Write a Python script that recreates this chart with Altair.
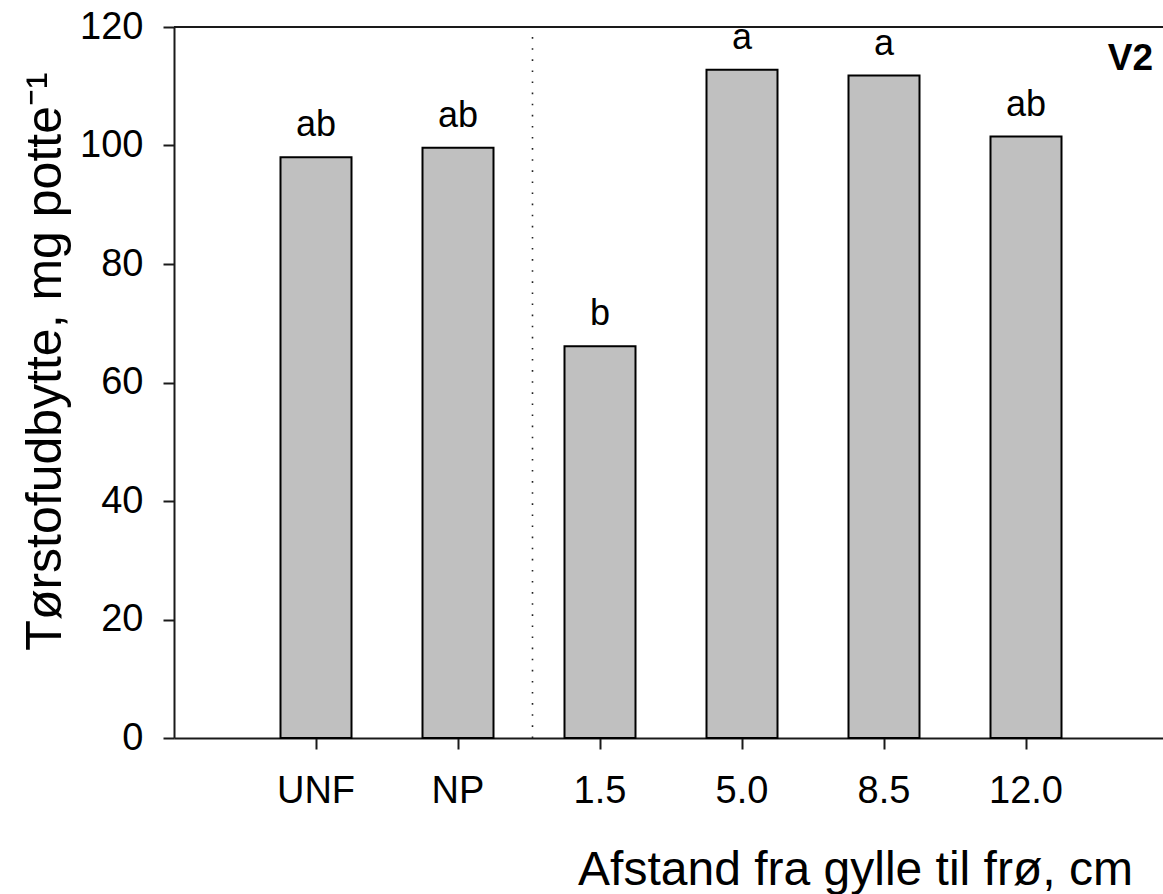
import altair as alt
import pandas as pd

# Dry-matter yield per treatment (mg per pot) and significance groups
treatments = ["UNF", "NP", "1.5", "5.0", "8.5", "12.0"]
dry_matter = [98.0, 99.6, 66.1, 112.8, 111.8, 101.5]
groups = ["ab", "ab", "b", "a", "a", "ab"]
y_ticks = [0, 20, 40, 60, 80, 100, 120]
panel = "V2"

df = pd.DataFrame({"treatment": treatments, "yield": dry_matter, "group": groups})
# separator sits just right of the last control treatment, full height
split_df = pd.DataFrame({"treatment": ["NP"], "yield": [0], "yield_end": [120]})
top_df = pd.DataFrame({"yield": [120]})

FONT = "Liberation Sans"
INK = "#1a1a1a"
W, H = 989, 711

x_scale = alt.Scale(domain=treatments, paddingInner=0.5, paddingOuter=0.75,
                    align=0.5, range=[0, 994])
y_scale = alt.Scale(domain=[0, 120], nice=False, zero=True)

x_axis = alt.Axis(
    title="Afstand fra gylle til frø, cm", labelAngle=0,
    labelFont=FONT, labelFontSize=38, labelColor="black", labelPadding=23,
    tickSize=11, tickWidth=2, tickColor=INK, domainColor=INK, domainWidth=2,
    titleFont=FONT, titleFontSize=48, titleFontWeight="normal", titleColor="black",
    titleX=681, titleY=146, titleAlign="center", titleBaseline="alphabetic",
)
y_axis = alt.Axis(
    title="Tørstofudbytte, mg potte⁻¹", values=y_ticks, grid=False,
    labelFont=FONT, labelFontSize=38, labelColor="black", labelPadding=20,
    tickSize=11, tickWidth=2, tickColor=INK, domainColor=INK, domainWidth=2,
    titleFont=FONT, titleFontSize=50, titleFontWeight="normal", titleColor="black",
    titleAngle=270, titleX=-114, titleY=334, titleAlign="center",
    titleBaseline="alphabetic",
)

x_enc = alt.X("treatment:N", scale=x_scale, sort=treatments, axis=x_axis)
y_enc = alt.Y("yield:Q", scale=y_scale, axis=y_axis)

bars = alt.Chart(df).mark_bar(fill="#c0c0c0", stroke="black", strokeWidth=2).encode(
    x=x_enc, y=y_enc
)

letters = alt.Chart(df).mark_text(
    font=FONT, fontSize=36, baseline="alphabetic", dy=-21, color="black"
).encode(x=x_enc, y=y_enc, text="group:N")

# dotted separator between the controls and the distance treatments
separator = alt.Chart(split_df).mark_rule(
    color="#222222", strokeWidth=1.6, strokeDash=[1.6, 9.5], xOffset=39
).encode(
    x=alt.X("treatment:N", scale=x_scale, sort=treatments, axis=x_axis, bandPosition=1),
    y=y_enc,
    y2="yield_end:Q",
)

# top frame line
frame_top = alt.Chart(top_df).mark_rule(color=INK, strokeWidth=2).encode(
    y=y_enc,
    x=alt.value(0),
    x2=alt.value("width"),
)

panel_label = alt.Chart(top_df).mark_text(
    font=FONT, fontSize=37, fontWeight="bold", align="right",
    baseline="alphabetic", dx=-10, dy=43, color="black"
).encode(x=alt.value("width"), y=alt.value(0), text=alt.value(panel))

chart = alt.layer(bars, letters, separator, frame_top, panel_label).properties(
    width=W, height=H,
    autosize=alt.AutoSizeParams(type="none"),
    padding={"left": 174, "top": 27, "right": 0, "bottom": 156},
    background="white",
).configure_view(stroke=None)

chart.save("out.html", embed_options={"renderer": "svg", "actions": False})
